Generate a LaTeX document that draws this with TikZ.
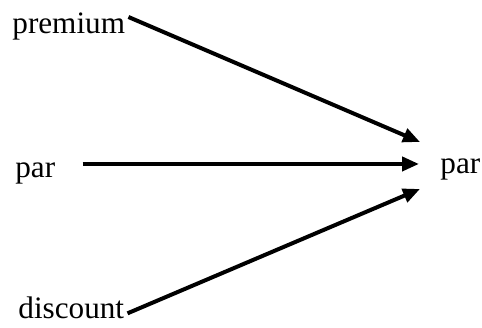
\documentclass[tikz,border=0pt]{standalone}
\usepackage{fontspec}
\setmainfont{Liberation Serif}
\usetikzlibrary{%
	calc,%
	arrows.meta,%
	positioning,%
}
\tikzset{
	>={Triangle[length=8.5pt, width=7pt]},
}

\begin{document}
\begin{tikzpicture}[x=0.5pt, y=-0.5pt,%
		word/.style={inner sep=0pt, anchor=base west, font=\fontsize{15.6}{18}\selectfont},%
		link/.style={->, line width=2pt}]
	\useasboundingbox (0,0) rectangle (482,327);

	\node[word] (premium) at (12,33) {premium};
	\node[word] (parL) at (15,177) {par};
	\node[word] (discount) at (18,318) {discount};
	\node[word] (parR) at (440,173) {par};

	\coordinate (tipA) at ($(parR.west)+(-20,-27)$);
	\coordinate (tipB) at ($(parR.west)+(-21,-5)$);
	\coordinate (tipC) at ($(parR.west)+(-20,20)$);

	\draw[link] ($(premium.east)+(3,-9)$) to (tipA);
	\draw[link] ($(parL.east)+(27,-9)$) to (tipB);
	\draw[link] ($(discount.east)+(3,6)$) to (tipC);
\end{tikzpicture}
\end{document}
